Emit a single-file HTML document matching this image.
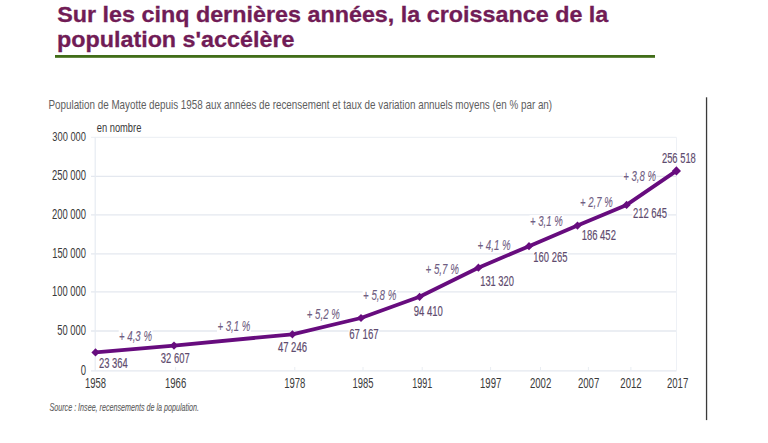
<!DOCTYPE html>
<html><head><meta charset="utf-8"><title>Population de Mayotte</title>
<style>
html,body{margin:0;padding:0;background:#fff;}
body{width:768px;height:443px;overflow:hidden;}
svg{display:block;font-family:"Liberation Sans",sans-serif;}
</style></head><body>
<svg width="768" height="443" viewBox="0 0 768 443">
<rect width="768" height="443" fill="#fff"/>
<text x="57.15" y="21.60" font-size="22.46" textLength="551.20" lengthAdjust="spacingAndGlyphs" font-weight="bold" font-style="normal" fill="#711c56" stroke="#711c56" stroke-width="0.3">Sur les cinq dernières années, la croissance de la</text>
<text x="56.98" y="47.20" font-size="22.46" textLength="237.50" lengthAdjust="spacingAndGlyphs" font-weight="bold" font-style="normal" fill="#711c56" stroke="#711c56" stroke-width="0.3">population s&#x27;accélère</text>
<rect x="55" y="55" width="600" height="2.8" fill="#416d18"/>
<text x="48.49" y="108.80" font-size="13.56" textLength="503.64" lengthAdjust="spacingAndGlyphs" font-weight="normal" font-style="normal" fill="#5e5e5e">Population de Mayotte depuis 1958 aux années de recensement et taux de variation annuels moyens (en % par an)</text>
<text x="96.70" y="131.90" font-size="11.86" textLength="44.70" lengthAdjust="spacingAndGlyphs" font-weight="normal" font-style="normal" fill="#3a3a3a">en nombre</text>
<line x1="91" y1="370.90" x2="676.5" y2="370.90" stroke="#e4e8ef" stroke-width="1.3"/>
<line x1="91" y1="331.00" x2="676.5" y2="331.00" stroke="#e4e8ef" stroke-width="1.3"/>
<line x1="91" y1="291.90" x2="676.5" y2="291.90" stroke="#e4e8ef" stroke-width="1.3"/>
<line x1="91" y1="253.80" x2="676.5" y2="253.80" stroke="#e4e8ef" stroke-width="1.3"/>
<line x1="91" y1="214.90" x2="676.5" y2="214.90" stroke="#e4e8ef" stroke-width="1.3"/>
<line x1="91" y1="176.30" x2="676.5" y2="176.30" stroke="#e4e8ef" stroke-width="1.3"/>
<line x1="91" y1="137.40" x2="676.5" y2="137.40" stroke="#eef1f5" stroke-width="1.3"/>
<line x1="95.2" y1="137.4" x2="95.2" y2="370.9" stroke="#e6ebf2" stroke-width="1.2"/>
<line x1="676.5" y1="137.4" x2="676.5" y2="370.9" stroke="#eef1f6" stroke-width="1"/>
<line x1="175.6" y1="367" x2="175.6" y2="370.9" stroke="#e9edf2" stroke-width="1"/>
<line x1="294.8" y1="367" x2="294.8" y2="370.9" stroke="#e9edf2" stroke-width="1"/>
<line x1="363.0" y1="367" x2="363.0" y2="370.9" stroke="#e9edf2" stroke-width="1"/>
<line x1="422.2" y1="367" x2="422.2" y2="370.9" stroke="#e9edf2" stroke-width="1"/>
<line x1="490.6" y1="367" x2="490.6" y2="370.9" stroke="#e9edf2" stroke-width="1"/>
<line x1="540.5" y1="367" x2="540.5" y2="370.9" stroke="#e9edf2" stroke-width="1"/>
<line x1="588.4" y1="367" x2="588.4" y2="370.9" stroke="#e9edf2" stroke-width="1"/>
<line x1="630.9" y1="367" x2="630.9" y2="370.9" stroke="#e9edf2" stroke-width="1"/>
<text x="80.87" y="374.70" font-size="14.62" textLength="5.30" lengthAdjust="spacingAndGlyphs" font-weight="normal" font-style="normal" fill="#3a3a3a">0</text>
<text x="57.22" y="335.15" font-size="14.34" textLength="28.74" lengthAdjust="spacingAndGlyphs" font-weight="normal" font-style="normal" fill="#3a3a3a">50 000</text>
<text x="52.05" y="296.15" font-size="14.34" textLength="33.93" lengthAdjust="spacingAndGlyphs" font-weight="normal" font-style="normal" fill="#3a3a3a">100 000</text>
<text x="52.20" y="257.50" font-size="14.34" textLength="33.77" lengthAdjust="spacingAndGlyphs" font-weight="normal" font-style="normal" fill="#3a3a3a">150 000</text>
<text x="51.93" y="218.80" font-size="14.77" textLength="34.05" lengthAdjust="spacingAndGlyphs" font-weight="normal" font-style="normal" fill="#3a3a3a">200 000</text>
<text x="51.93" y="179.50" font-size="14.77" textLength="34.05" lengthAdjust="spacingAndGlyphs" font-weight="normal" font-style="normal" fill="#3a3a3a">250 000</text>
<text x="52.25" y="140.50" font-size="13.48" textLength="33.72" lengthAdjust="spacingAndGlyphs" font-weight="normal" font-style="normal" fill="#3a3a3a">300 000</text>
<text x="84.99" y="388.00" font-size="13.91" textLength="21.03" lengthAdjust="spacingAndGlyphs" font-weight="normal" font-style="normal" fill="#3a3a3a">1958</text>
<text x="164.98" y="388.00" font-size="13.91" textLength="21.24" lengthAdjust="spacingAndGlyphs" font-weight="normal" font-style="normal" fill="#3a3a3a">1966</text>
<text x="284.18" y="388.00" font-size="13.91" textLength="21.24" lengthAdjust="spacingAndGlyphs" font-weight="normal" font-style="normal" fill="#3a3a3a">1978</text>
<text x="352.49" y="388.00" font-size="13.91" textLength="20.95" lengthAdjust="spacingAndGlyphs" font-weight="normal" font-style="normal" fill="#3a3a3a">1985</text>
<text x="412.22" y="388.00" font-size="13.91" textLength="20.02" lengthAdjust="spacingAndGlyphs" font-weight="normal" font-style="normal" fill="#3a3a3a">1991</text>
<text x="479.98" y="388.00" font-size="13.91" textLength="21.32" lengthAdjust="spacingAndGlyphs" font-weight="normal" font-style="normal" fill="#3a3a3a">1997</text>
<text x="529.92" y="388.00" font-size="13.91" textLength="21.38" lengthAdjust="spacingAndGlyphs" font-weight="normal" font-style="normal" fill="#3a3a3a">2002</text>
<text x="577.92" y="388.00" font-size="13.91" textLength="21.38" lengthAdjust="spacingAndGlyphs" font-weight="normal" font-style="normal" fill="#3a3a3a">2007</text>
<text x="620.32" y="388.00" font-size="13.91" textLength="21.38" lengthAdjust="spacingAndGlyphs" font-weight="normal" font-style="normal" fill="#3a3a3a">2012</text>
<text x="666.92" y="388.00" font-size="13.91" textLength="21.38" lengthAdjust="spacingAndGlyphs" font-weight="normal" font-style="normal" fill="#3a3a3a">2017</text>
<rect x="98.40" y="356.50" width="30.00" height="12.80" fill="#fff"/>
<rect x="160.20" y="352.30" width="30.00" height="12.40" fill="#fff"/>
<rect x="277.10" y="340.90" width="30.50" height="12.70" fill="#fff"/>
<rect x="348.70" y="327.10" width="30.50" height="12.90" fill="#fff"/>
<rect x="413.10" y="305.00" width="30.30" height="12.70" fill="#fff"/>
<rect x="479.90" y="274.60" width="34.70" height="12.90" fill="#fff"/>
<rect x="533.00" y="250.50" width="35.00" height="12.50" fill="#fff"/>
<rect x="581.40" y="229.00" width="35.00" height="12.70" fill="#fff"/>
<rect x="632.40" y="206.30" width="35.30" height="13.20" fill="#fff"/>
<rect x="661.40" y="152.00" width="35.00" height="12.50" fill="#fff"/>
<rect x="118.70" y="329.30" width="33.80" height="13.20" fill="#fff"/>
<rect x="217.00" y="320.60" width="33.80" height="12.30" fill="#fff"/>
<rect x="306.40" y="307.70" width="33.90" height="12.40" fill="#fff"/>
<rect x="362.60" y="288.60" width="34.30" height="13.30" fill="#fff"/>
<rect x="425.10" y="263.00" width="34.40" height="12.70" fill="#fff"/>
<rect x="477.10" y="239.50" width="34.10" height="12.20" fill="#fff"/>
<rect x="529.50" y="215.20" width="33.80" height="12.50" fill="#fff"/>
<rect x="579.50" y="195.50" width="33.80" height="12.80" fill="#fff"/>
<rect x="622.80" y="169.80" width="33.80" height="12.50" fill="#fff"/>
<polyline points="95.50,352.40 174.00,345.60 292.40,334.30 361.00,318.00 419.60,296.80 478.40,267.70 529.00,246.20 577.50,225.60 626.60,204.90 676.40,170.90" fill="none" stroke="#670c7e" stroke-width="3.8" stroke-linejoin="round"/>
<polygon points="91.40,352.40 95.50,348.30 99.60,352.40 95.50,356.50" fill="#670c7e"/>
<polygon points="169.90,345.60 174.00,341.50 178.10,345.60 174.00,349.70" fill="#670c7e"/>
<polygon points="288.30,334.30 292.40,330.20 296.50,334.30 292.40,338.40" fill="#670c7e"/>
<polygon points="356.90,318.00 361.00,313.90 365.10,318.00 361.00,322.10" fill="#670c7e"/>
<polygon points="415.50,296.80 419.60,292.70 423.70,296.80 419.60,300.90" fill="#670c7e"/>
<polygon points="474.30,267.70 478.40,263.60 482.50,267.70 478.40,271.80" fill="#670c7e"/>
<polygon points="524.90,246.20 529.00,242.10 533.10,246.20 529.00,250.30" fill="#670c7e"/>
<polygon points="573.40,225.60 577.50,221.50 581.60,225.60 577.50,229.70" fill="#670c7e"/>
<polygon points="622.50,204.90 626.60,200.80 630.70,204.90 626.60,209.00" fill="#670c7e"/>
<polygon points="671.80,170.90 676.40,166.30 681.00,170.90 676.40,175.50" fill="#670c7e"/>
<text x="98.93" y="367.80" font-size="14.77" textLength="28.74" lengthAdjust="spacingAndGlyphs" font-weight="normal" font-style="normal" fill="#5e4b6e" stroke="#5e4b6e" stroke-width="0.18">23 364</text>
<text x="160.85" y="363.20" font-size="14.19" textLength="28.84" lengthAdjust="spacingAndGlyphs" font-weight="normal" font-style="normal" fill="#5e4b6e" stroke="#5e4b6e" stroke-width="0.18">32 607</text>
<text x="277.89" y="352.10" font-size="14.62" textLength="29.13" lengthAdjust="spacingAndGlyphs" font-weight="normal" font-style="normal" fill="#5e4b6e" stroke="#5e4b6e" stroke-width="0.18">47 246</text>
<text x="349.22" y="338.50" font-size="14.91" textLength="29.48" lengthAdjust="spacingAndGlyphs" font-weight="normal" font-style="normal" fill="#5e4b6e" stroke="#5e4b6e" stroke-width="0.18">67 167</text>
<text x="413.65" y="316.20" font-size="14.62" textLength="29.12" lengthAdjust="spacingAndGlyphs" font-weight="normal" font-style="normal" fill="#5e4b6e" stroke="#5e4b6e" stroke-width="0.18">94 410</text>
<text x="480.20" y="286.00" font-size="14.91" textLength="33.77" lengthAdjust="spacingAndGlyphs" font-weight="normal" font-style="normal" fill="#5e4b6e" stroke="#5e4b6e" stroke-width="0.18">131 320</text>
<text x="533.29" y="261.50" font-size="14.34" textLength="34.11" lengthAdjust="spacingAndGlyphs" font-weight="normal" font-style="normal" fill="#5e4b6e" stroke="#5e4b6e" stroke-width="0.18">160 265</text>
<text x="581.69" y="240.20" font-size="14.62" textLength="34.21" lengthAdjust="spacingAndGlyphs" font-weight="normal" font-style="normal" fill="#5e4b6e" stroke="#5e4b6e" stroke-width="0.18">186 452</text>
<text x="632.93" y="218.00" font-size="15.34" textLength="34.17" lengthAdjust="spacingAndGlyphs" font-weight="normal" font-style="normal" fill="#5e4b6e" stroke="#5e4b6e" stroke-width="0.18">212 645</text>
<text x="661.93" y="163.00" font-size="14.34" textLength="33.89" lengthAdjust="spacingAndGlyphs" font-weight="normal" font-style="normal" fill="#5e4b6e" stroke="#5e4b6e" stroke-width="0.18">256 518</text>
<text x="119.10" y="341.00" font-size="15.34" textLength="32.82" lengthAdjust="spacingAndGlyphs" font-weight="normal" font-style="italic" fill="#6f5d82" stroke="#6f5d82" stroke-width="0.1">+ 4,3 %</text>
<text x="217.40" y="331.40" font-size="14.05" textLength="32.82" lengthAdjust="spacingAndGlyphs" font-weight="normal" font-style="italic" fill="#6f5d82" stroke="#6f5d82" stroke-width="0.1">+ 3,1 %</text>
<text x="306.80" y="318.60" font-size="14.19" textLength="32.93" lengthAdjust="spacingAndGlyphs" font-weight="normal" font-style="italic" fill="#6f5d82" stroke="#6f5d82" stroke-width="0.1">+ 5,2 %</text>
<text x="362.99" y="300.40" font-size="15.48" textLength="33.34" lengthAdjust="spacingAndGlyphs" font-weight="normal" font-style="italic" fill="#6f5d82" stroke="#6f5d82" stroke-width="0.1">+ 5,8 %</text>
<text x="425.49" y="274.20" font-size="14.68" textLength="33.44" lengthAdjust="spacingAndGlyphs" font-weight="normal" font-style="italic" fill="#6f5d82" stroke="#6f5d82" stroke-width="0.1">+ 5,7 %</text>
<text x="477.49" y="250.20" font-size="13.96" textLength="33.13" lengthAdjust="spacingAndGlyphs" font-weight="normal" font-style="italic" fill="#6f5d82" stroke="#6f5d82" stroke-width="0.1">+ 4,1 %</text>
<text x="529.90" y="226.20" font-size="14.34" textLength="32.82" lengthAdjust="spacingAndGlyphs" font-weight="normal" font-style="italic" fill="#6f5d82" stroke="#6f5d82" stroke-width="0.1">+ 3,1 %</text>
<text x="579.90" y="206.80" font-size="14.77" textLength="32.82" lengthAdjust="spacingAndGlyphs" font-weight="normal" font-style="italic" fill="#6f5d82" stroke="#6f5d82" stroke-width="0.1">+ 2,7 %</text>
<text x="623.20" y="180.80" font-size="14.34" textLength="32.82" lengthAdjust="spacingAndGlyphs" font-weight="normal" font-style="italic" fill="#6f5d82" stroke="#6f5d82" stroke-width="0.1">+ 3,8 %</text>
<text x="49.50" y="410.90" font-size="11.45" textLength="149.47" lengthAdjust="spacingAndGlyphs" font-weight="normal" font-style="italic" fill="#5e5e5e" stroke="#5e5e5e" stroke-width="0.12">Source : Insee, recensements de la population.</text>
<rect x="705.9" y="97.3" width="1.3" height="322.8" fill="#3a3a3a"/>
</svg>
</body></html>
